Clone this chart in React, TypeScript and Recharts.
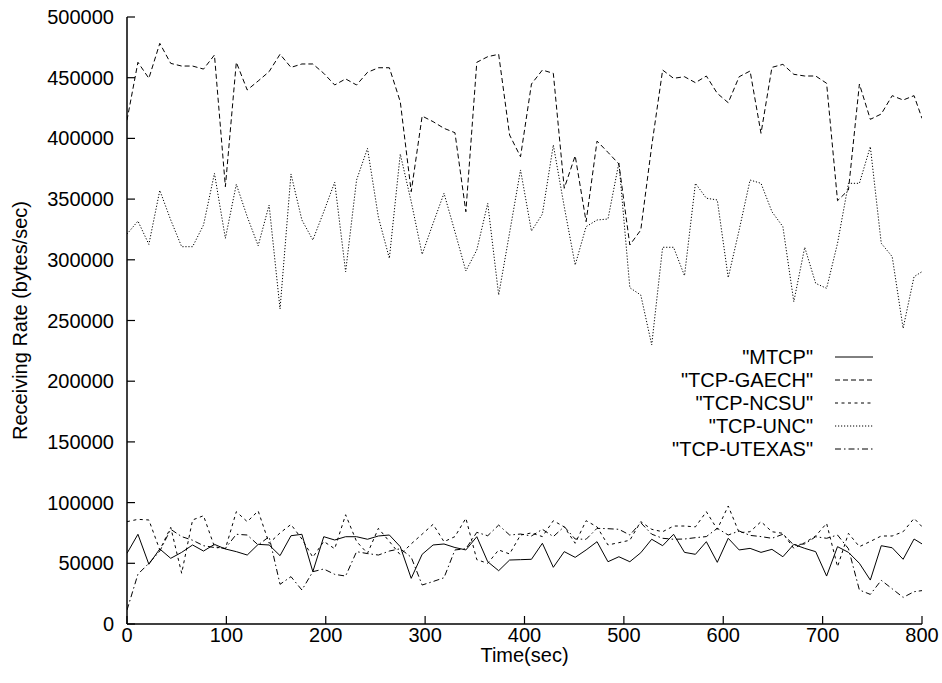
import { LineChart, Line, XAxis, YAxis, Legend } from 'recharts';

// sample times (sec)
const times = [
  0, 11, 22, 33, 44, 55, 66, 77, 88, 99, 110, 121, 132, 143, 154, 165, 176, 187, 198, 209,
  220, 231, 242, 253, 264, 275, 286, 297, 308, 319, 330, 341, 352, 363, 374, 385, 396, 407, 418, 429,
  440, 451, 462, 473, 484, 495, 506, 517, 528, 539, 550, 561, 572, 583, 594, 605, 616, 627, 638, 649,
  660, 671, 682, 693, 704, 715, 726, 737, 748, 759, 770, 781, 792, 800,
];

const mtcp = [
  58200, 73900, 49200, 61800, 54100, 59000, 65100, 60100, 65600, 61800, 59600, 56800, 65600, 65100, 56300, 72700, 73900, 43100, 71900, 69200,
  71900, 71900, 69800, 72500, 73300, 63700, 37600, 57400, 65100, 65900, 63000, 61000, 71900, 51300, 43900, 52700, 53000, 53300, 66500, 46700,
  59600, 54900, 61000, 67800, 51300, 55400, 51300, 58700, 69800, 64500, 73900, 59000, 57400, 67800, 50800, 70600, 61000, 62300, 59000, 61500,
  55400, 65600, 62300, 59600, 39500, 63700, 59000, 50000, 36200, 64500, 62800, 53300, 70000, 66000,
];

const gaech = [
  415000, 462700, 449500, 478300, 461800, 459600, 459600, 457100, 468700, 360200, 462700, 439900, 447300, 455000, 469300, 458500, 461300, 461300, 453600, 444000,
  449000, 444000, 454400, 458200, 458200, 430200, 356100, 418400, 413800, 408300, 404700, 339600, 462700, 467300, 469300, 402800, 384900, 444800, 456300, 453600,
  358900, 385700, 331400, 397800, 388500, 378900, 312200, 324500, 393700, 456300, 449500, 450800, 445900, 451400, 437100, 429400, 450800, 455500, 404200, 458500,
  461000, 452800, 451400, 451400, 445400, 348700, 357500, 444800, 415700, 420100, 435200, 431600, 435200, 416500,
];

const ncsu = [
  84300, 86200, 85700, 61000, 79600, 41800, 85700, 89200, 63700, 62000, 92500, 84300, 93100, 66500, 75000, 82000, 70000, 55000, 68000, 62000,
  90000, 68000, 58200, 78800, 68000, 57000, 66000, 74000, 82100, 67800, 72000, 87100, 53000, 50000, 61000, 57700, 73300, 75000, 72000, 85100,
  80000, 66500, 85100, 80000, 65100, 67000, 69000, 84300, 78000, 76000, 80700, 80700, 80000, 92500, 78000, 97200, 75200, 76000, 84300, 76000,
  74700, 62300, 67000, 72500, 82900, 47200, 74700, 63700, 68000, 72500, 72500, 76000, 87000, 80200,
];

const unc = [
  321200, 331900, 312700, 357200, 332800, 310800, 310800, 328700, 371200, 317700, 362200, 335500, 311600, 345100, 259500, 370700, 332800, 316300, 339600, 363900,
  290200, 365700, 391800, 335000, 301200, 387100, 347900, 304500, 330000, 354800, 323100, 290800, 308100, 346500, 271000, 322300, 374000, 323700, 337700, 394600,
  343700, 295700, 327300, 332800, 333600, 380000, 277000, 271000, 230000, 310300, 310300, 286900, 363000, 350700, 349300, 285300, 324500, 365700, 363000, 339600,
  327300, 265500, 310300, 280600, 276500, 313600, 363000, 363000, 393200, 313600, 302600, 243600, 286100, 290200,
];

const utexas = [
  11500, 41000, 50000, 60000, 78000, 72000, 69000, 64500, 63000, 62300, 73900, 73300, 65100, 71900, 32700, 39000, 28000, 43100, 45300, 40900,
  39500, 59600, 58000, 56800, 60100, 62000, 55000, 32100, 35000, 38100, 61000, 62000, 75500, 72700, 81500, 73300, 74100, 72500, 78000, 72000,
  80200, 70000, 69800, 78800, 78500, 78000, 73300, 83400, 74000, 70600, 69800, 70000, 71100, 72000, 78800, 73300, 76600, 73000, 72000, 70600,
  73900, 65100, 66000, 71900, 70600, 73300, 62000, 28000, 24400, 36000, 29000, 21900, 26600, 27500,
];

const xTicks = [0, 100, 200, 300, 400, 500, 600, 700, 800];
const yTicks = [0, 50000, 100000, 150000, 200000, 250000, 300000, 350000, 400000, 450000, 500000];

const series = [
  { key: 'mtcp', name: '"MTCP"', dash: undefined as string | undefined },
  { key: 'gaech', name: '"TCP-GAECH"', dash: '5 3' },
  { key: 'ncsu', name: '"TCP-NCSU"', dash: '3 3.5' },
  { key: 'unc', name: '"TCP-UNC"', dash: '1.2 1.8' },
  { key: 'utexas', name: '"TCP-UTEXAS"', dash: '6 3 1.5 3' },
];

const data = times.map((t, i) => ({
  t,
  mtcp: mtcp[i],
  gaech: gaech[i],
  ncsu: ncsu[i],
  unc: unc[i],
  utexas: utexas[i],
}));

const FONT = '"Liberation Sans", Arial, Helvetica, sans-serif';
const TICK = 8;

const BottomTick = ({ x, y, payload }: any) => (
  <g>
    <line x1={x} y1={y} x2={x} y2={y - TICK} stroke="#000" strokeWidth={1.2} />
    <text x={x} y={y + 18} textAnchor="middle" fontSize={20} fontFamily={FONT} fill="#000">
      {payload.value}
    </text>
  </g>
);

const TopTick = ({ x, y }: any) => (
  <line x1={x} y1={y} x2={x} y2={y + TICK} stroke="#000" strokeWidth={1.2} />
);

const LeftTick = ({ x, y, payload }: any) => (
  <g>
    <line x1={x} y1={y} x2={x + TICK} y2={y} stroke="#000" strokeWidth={1.2} />
    <text x={x - 13} y={y + 7} textAnchor="end" fontSize={20} fontFamily={FONT} fill="#000">
      {payload.value}
    </text>
  </g>
);

const RightTick = ({ x, y }: any) => (
  <line x1={x} y1={y} x2={x - TICK} y2={y} stroke="#000" strokeWidth={1.2} />
);

const LegendBox = () => (
  <svg width={270} height={125} style={{ display: 'block' }}>
    {series.map((s, i) => (
      <g key={s.key}>
        <text
          x={173}
          y={24 + i * 23}
          textAnchor="end"
          fontSize={20}
          fontFamily={FONT}
          fill="#000"
        >
          {s.name}
        </text>
        <line
          x1={195}
          x2={233}
          y1={17 + i * 23}
          y2={17 + i * 23}
          stroke="#000"
          strokeWidth={1}
          strokeDasharray={s.dash}
        />
      </g>
    ))}
  </svg>
);

export default function App() {
  const axisLine = { stroke: '#000', strokeWidth: 1.5 };
  return (
    <div
      style={{
        position: 'absolute',
        left: 0,
        top: 0,
        width: 942,
        height: 683,
        background: '#fff',
        fontFamily: FONT,
      }}
    >
      <LineChart width={942} height={683} data={data} margin={{ top: 17, right: 20, bottom: 0, left: 0 }}>
        <XAxis
          xAxisId="x"
          dataKey="t"
          type="number"
          domain={[0, 800]}
          allowDataOverflow
          ticks={xTicks}
          height={59}
          tickSize={0}
          tickMargin={0}
          tickLine={false}
          axisLine={axisLine}
          tick={<BottomTick />}
          label={{
            content: ({ viewBox }: any) => (
              <text
                x={viewBox.x + viewBox.width / 2}
                y={viewBox.y + 38}
                textAnchor="middle"
                fontSize={20}
                fontFamily={FONT}
                fill="#000"
              >
                Time(sec)
              </text>
            ),
          }}
        />
        <XAxis
          xAxisId="top"
          orientation="top"
          dataKey="t"
          type="number"
          domain={[0, 800]}
          allowDataOverflow
          ticks={xTicks}
          height={0}
          tickSize={0}
          tickMargin={0}
          tickLine={false}
          axisLine={axisLine}
          tick={<TopTick />}
        />
        <YAxis
          yAxisId="y"
          type="number"
          domain={[0, 500000]}
          allowDataOverflow
          ticks={yTicks}
          width={127}
          tickSize={0}
          tickMargin={0}
          tickLine={false}
          axisLine={axisLine}
          tick={<LeftTick />}
          label={{
            content: ({ viewBox }: any) => {
              const cy = viewBox.y + viewBox.height / 2;
              return (
                <text
                  x={27}
                  y={cy}
                  transform={`rotate(-90 27 ${cy})`}
                  textAnchor="middle"
                  fontSize={20}
                  fontFamily={FONT}
                  fill="#000"
                >
                  Receiving Rate (bytes/sec)
                </text>
              );
            },
          }}
        />
        <YAxis
          yAxisId="r"
          orientation="right"
          type="number"
          domain={[0, 500000]}
          allowDataOverflow
          ticks={yTicks}
          width={0}
          tickSize={0}
          tickMargin={0}
          tickLine={false}
          axisLine={axisLine}
          tick={<RightTick />}
        />
        {series.map((s) => (
          <Line
            key={s.key}
            xAxisId="x"
            yAxisId="y"
            type="linear"
            dataKey={s.key}
            name={s.name}
            stroke="#000"
            strokeWidth={1}
            strokeDasharray={s.dash}
            dot={false}
            activeDot={false}
            isAnimationActive={false}
          />
        ))}
        <Legend
          layout="horizontal"
          verticalAlign="middle"
          align="center"
          wrapperStyle={{ left: 640, top: 340, width: 270, height: 125 }}
          content={() => <LegendBox />}
        />
      </LineChart>
    </div>
  );
}
